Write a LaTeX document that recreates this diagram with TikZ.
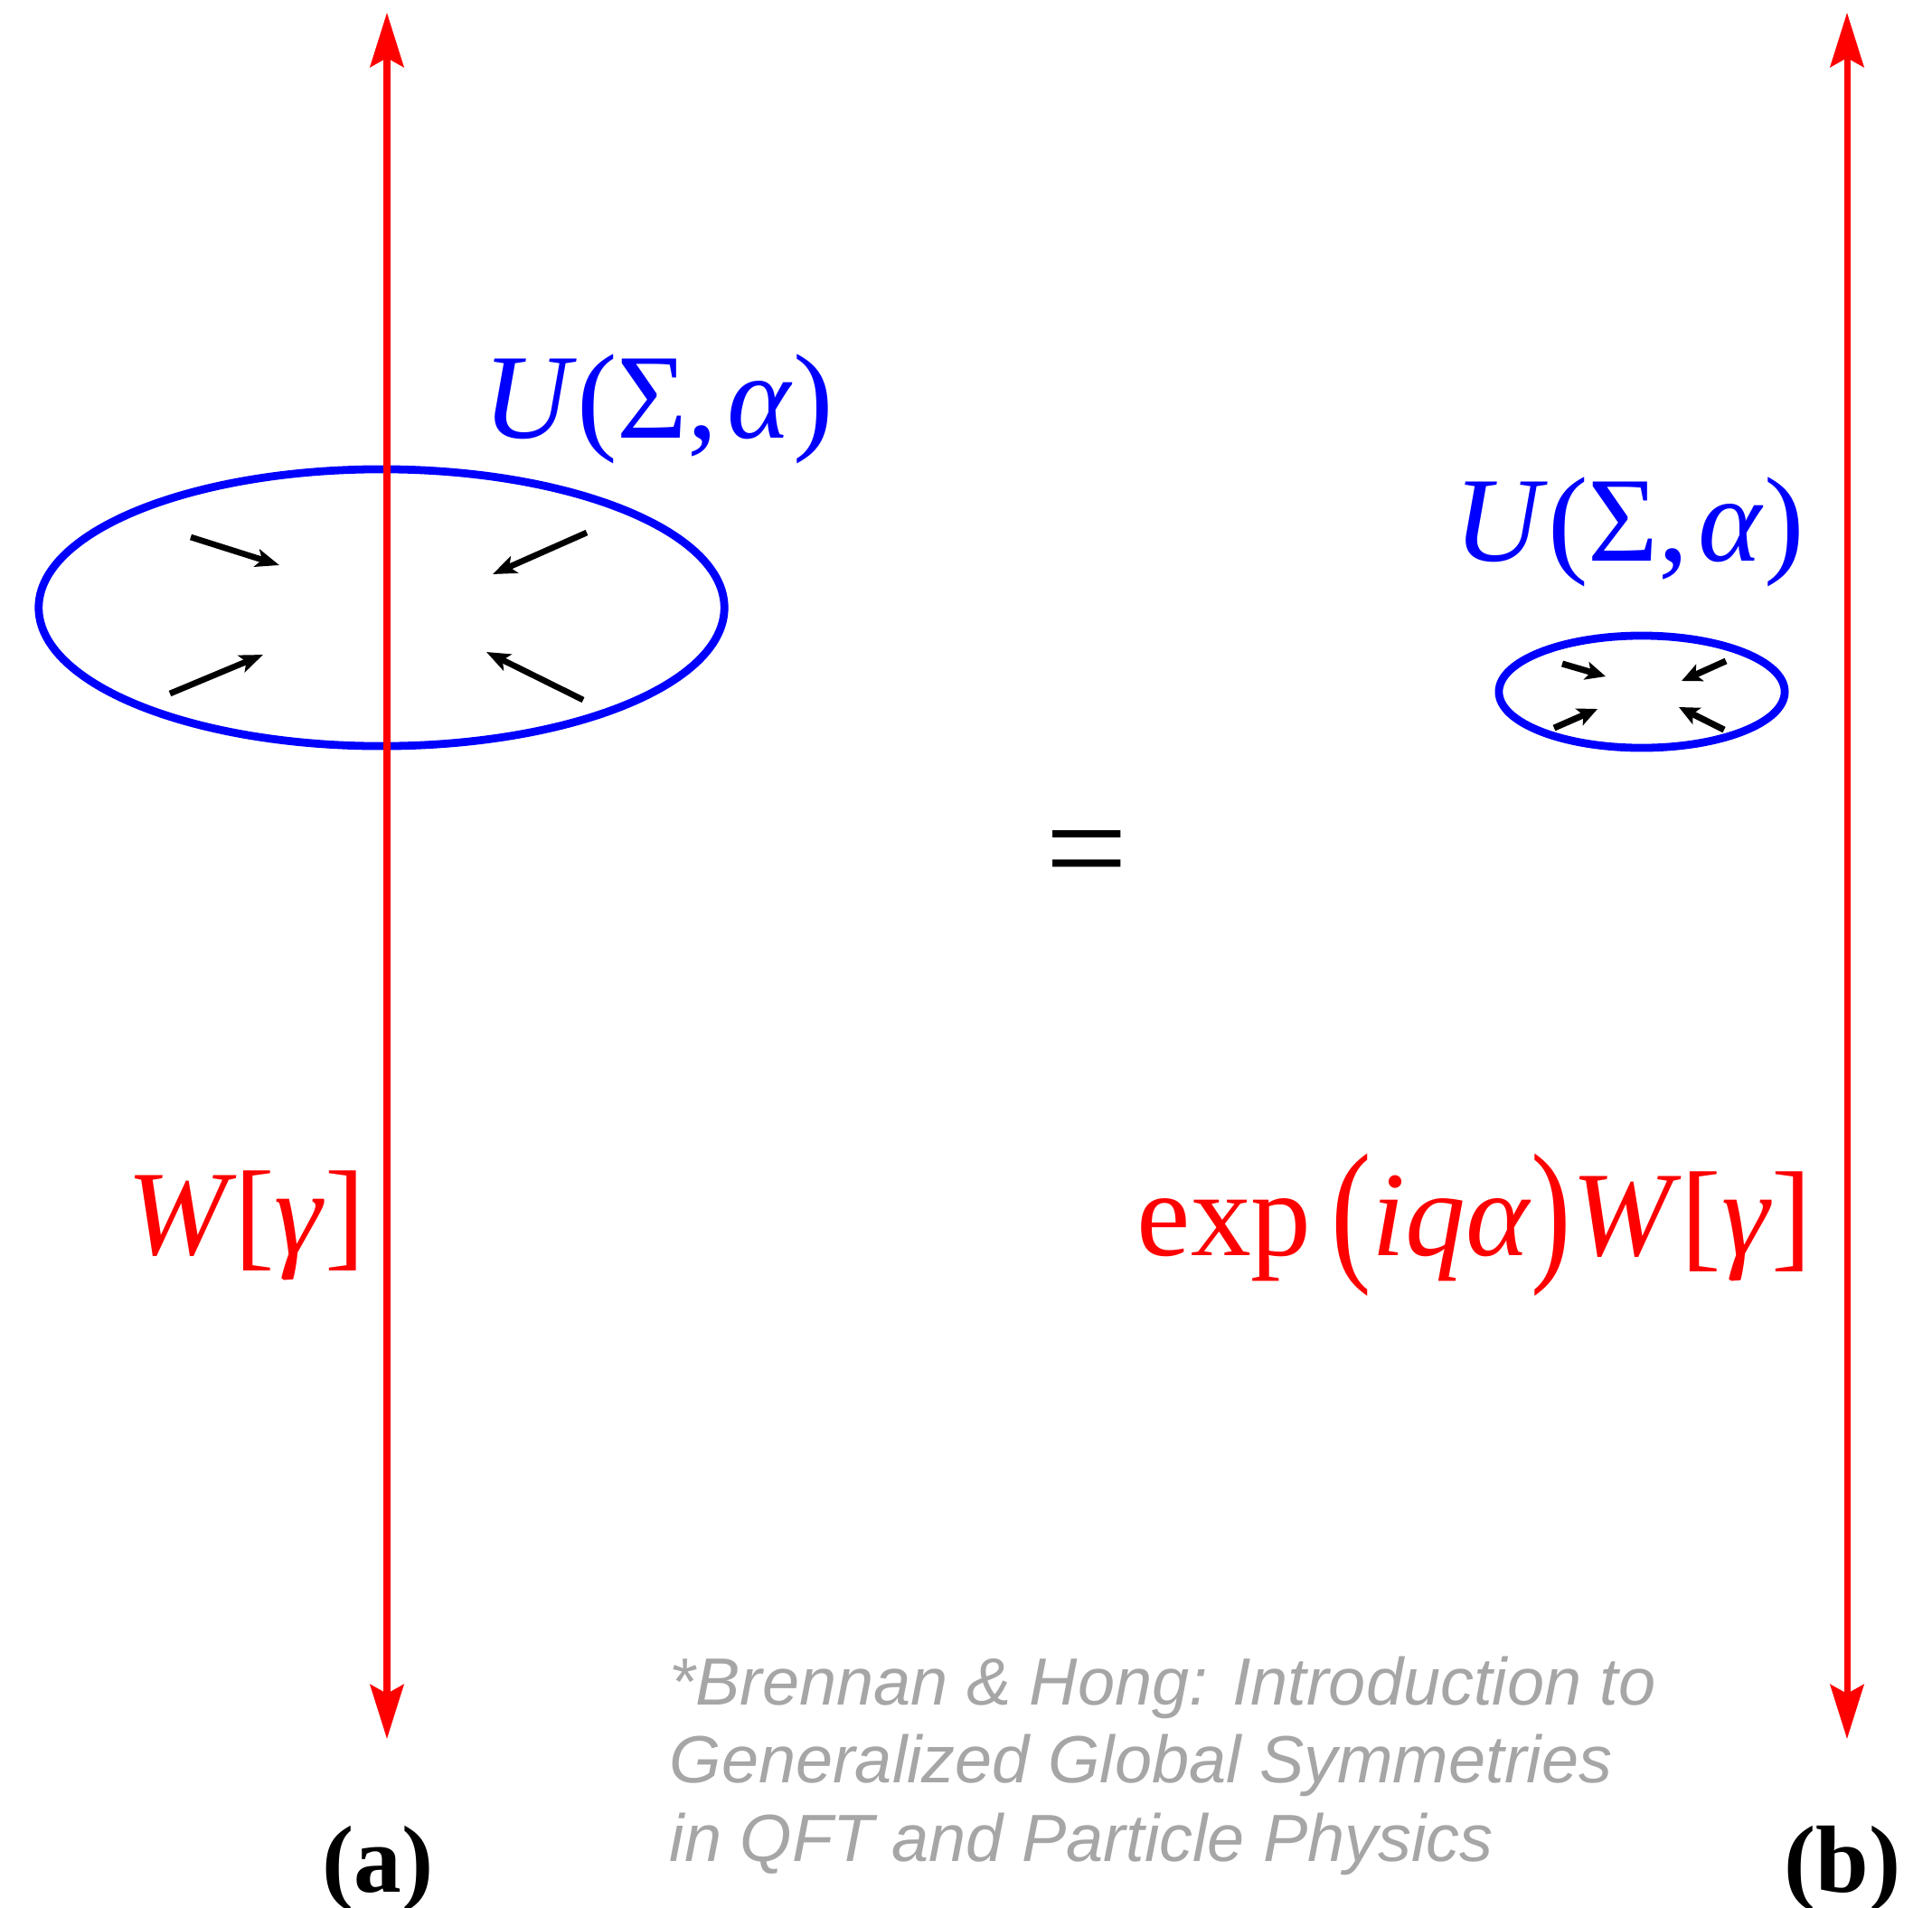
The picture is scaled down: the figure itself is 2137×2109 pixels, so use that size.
\documentclass[tikz,border=0pt]{standalone}
\usepackage{fontspec}
\usepackage{graphicx}
\setmainfont{Liberation Serif}
\newfontfamily\footfont{Liberation Sans}
\usetikzlibrary{arrows.meta,shapes.geometric}
\definecolor{wred}{RGB}{255,0,0}
\definecolor{ublue}{RGB}{0,0,255}
\definecolor{refgray}{RGB}{166,166,166}
\begin{document}
\begin{tikzpicture}[x=0.01cm,y=-0.01cm,
  wline/.style={draw=wred, line width=2pt,
    {Stealth[length=0.6cm,width=0.37cm,inset=0.1cm]}-{Stealth[length=0.6cm,width=0.37cm,inset=0.1cm]}},
  loopline/.style={ellipse, draw=ublue, line width=2.5pt, inner sep=0pt},
  flux/.style={draw=black, line width=1.9pt, -{Stealth[length=0.26cm,width=0.2cm,inset=0.06cm]}},
  sflux/.style={draw=black, line width=2pt, -{Stealth[length=0.22cm,width=0.2cm,inset=0.05cm]}},
  bigmath/.style={font=\fontsize{38}{46}\selectfont, inner sep=0pt, anchor=base west},
  sublabel/.style={font=\fontsize{30}{36}\selectfont\bfseries, inner sep=0pt, anchor=base},
]
\useasboundingbox (0,0) rectangle (2137,2109);
% loops
\node[loopline, minimum width=7.58cm, minimum height=3.06cm] (L) at (422,672) {};
\node[loopline, minimum width=3.16cm, minimum height=1.24cm] (S) at (1816,765) {};
% Wilson lines
\coordinate (atop) at (428,14);
\coordinate (abot) at (428,1923);
\coordinate (btop) at (2043,14);
\coordinate (bbot) at (2043,1923);
\draw[wline] (abot) -- (atop);
\draw[wline] (bbot) -- (btop);
% flux arrows, big loop
\coordinate (f1s) at (211,594); \coordinate (f1e) at (309,625);
\coordinate (f2s) at (649,589); \coordinate (f2e) at (545,635);
\coordinate (f3s) at (188,767); \coordinate (f3e) at (291,724);
\coordinate (f4s) at (645,774); \coordinate (f4e) at (538,721);
\draw[flux] (f1s) -- (f1e);
\draw[flux] (f2s) -- (f2e);
\draw[flux] (f3s) -- (f3e);
\draw[flux] (f4s) -- (f4e);
% flux arrows, small loop
\coordinate (g1s) at (1728,734); \coordinate (g1e) at (1776,748);
\coordinate (g2s) at (1909,731); \coordinate (g2e) at (1860,753);
\coordinate (g3s) at (1719,805); \coordinate (g3e) at (1767,784);
\coordinate (g4s) at (1907,807); \coordinate (g4e) at (1857,782);
\draw[sflux] (g1s) -- (g1e);
\draw[sflux] (g2s) -- (g2e);
\draw[sflux] (g3s) -- (g3e);
\draw[sflux] (g4s) -- (g4e);
% labels
\node[bigmath, text=ublue] (U1) at (534,484) {\textit{U}(Σ,\kern0.08em\textit{α})};
\node[bigmath, text=ublue] (U2) at (1608,620) {\textit{U}(Σ,\kern0.08em\textit{α})};
\node[bigmath, text=wred] (W1) at (140,1387) {\textit{W}\kern-0.02em[\textit{γ}]};
\node[bigmath, text=wred] (W2) at (1257,1388) {exp\,\raisebox{-0.06em}{\scalebox{1}[1.3]{(}}\textit{iqα}\raisebox{-0.06em}{\scalebox{1}[1.3]{)}}\textit{W}[\textit{γ}]};
\node[font=\fontsize{46}{50}\selectfont, inner sep=0pt] (eq) at (1202,956) {=};
% footnote
\node[font=\footfont\itshape\fontsize{21}{24.5}\selectfont, text=refgray, align=left, inner sep=0pt, anchor=base west] (ref) at (740,2058)
  {*Brennan \& Hong: Introduction to\\Generalized Global Symmetries\\in QFT and Particle Physics};
% sub-figure labels
\node[sublabel] (la) at (418,2092) {(a)};
\node[sublabel] (lb) at (2038,2092) {(b)};
\end{tikzpicture}
\end{document}
